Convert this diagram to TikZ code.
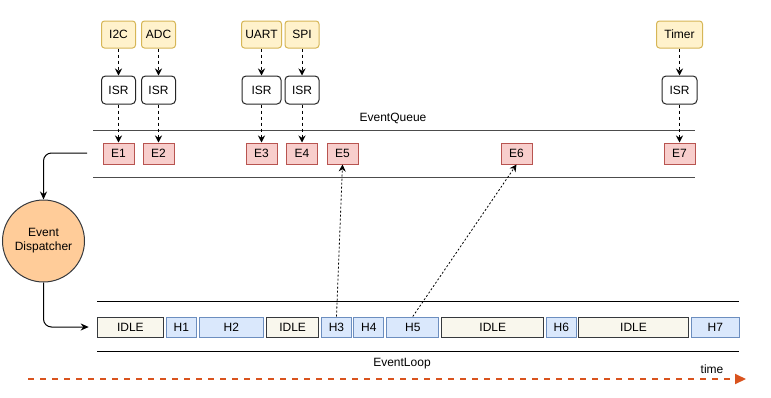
\documentclass[tikz,border=0pt]{standalone}
\usepackage{fontspec}
\setmainfont{Liberation Sans}
\usepackage{tikz}
\usetikzlibrary{arrows.meta,positioning}

\definecolor{srcfill}{HTML}{FFF2CC}
\definecolor{srcline}{HTML}{D6B656}
\definecolor{evfill}{HTML}{F8CECC}
\definecolor{evline}{HTML}{B85450}
\definecolor{hfill}{HTML}{DAE8FC}
\definecolor{hline}{HTML}{6C8EBF}
\definecolor{idlefill}{HTML}{F9F7ED}
\definecolor{idleline}{HTML}{36393D}
\definecolor{dispfill}{HTML}{FFCC99}
\definecolor{timecol}{HTML}{D9531E}

\begin{document}
\begin{tikzpicture}[x=1pt,y=-1pt,line width=1pt,
    font=\fontsize{12}{14}\selectfont,
    src/.style={draw=srcline,fill=srcfill,rounded corners=3pt,minimum height=27pt,inner sep=0pt},
    isr/.style={draw=black!85,fill=white,rounded corners=4pt,minimum height=28pt,minimum width=34pt,inner sep=0pt},
    ev/.style={draw=evline,fill=evfill,minimum height=21pt,minimum width=31pt,inner sep=0pt},
    idle/.style={draw=idleline,fill=idlefill,minimum height=20pt,inner sep=0pt},
    hnd/.style={draw=hline,fill=hfill,minimum height=20pt,inner sep=0pt},
    irq/.style={-{Stealth[length=7pt,width=7pt]},dash pattern=on 3pt off 3pt},
    post/.style={-{Stealth[length=7pt,width=7pt]},line width=0.8pt,dash pattern=on 2pt off 2pt},
    bar/.style={draw=black!70}]
    \useasboundingbox (0,0) rectangle (771,397);

    \node[src,minimum width=34pt] (i2c) at (118.5,34.5) {I2C};
    \node[src,minimum width=34pt] (adc) at (158.5,34.5) {ADC};
    \node[src,minimum width=40pt] (uart) at (261.5,34.5) {UART};
    \node[src,minimum width=34pt] (spi) at (302,34.5) {SPI};
    \node[src,minimum width=46pt] (timer) at (679.5,34.5) {Timer};

    \node[isr] (isr1) at (118.5,90) {ISR};
    \node[isr] (isr2) at (158.5,90) {ISR};
    \node[isr,minimum width=39pt] (isr3) at (261.5,90) {ISR};
    \node[isr] (isr4) at (302,90) {ISR};
    \node[isr,minimum width=35pt] (isr5) at (679.5,90) {ISR};

    \draw[bar] (93,130) -- (695,130);
    \draw[bar] (93,177) -- (695,177);
    \node (qlabel) at (393,118) {EventQueue};

    \node[ev] (e1) at (118.5,153.5) {E1};
    \node[ev] (e2) at (158.5,153.5) {E2};
    \node[ev] (e3) at (261.5,153.5) {E3};
    \node[ev] (e4) at (302,153.5) {E4};
    \node[ev] (e5) at (342.5,153.5) {E5};
    \node[ev] (e6) at (516.5,153.5) {E6};
    \node[ev] (e7) at (679.5,153.5) {E7};

    \foreach \s/\i/\e in {i2c/isr1/e1,adc/isr2/e2,uart/isr3/e3,spi/isr4/e4,timer/isr5/e7}{
        \draw[irq] (\s) -- (\i);
        \draw[irq] (\i) -- (\e);
    }

    \node[circle,draw=idleline,fill=dispfill,minimum size=82pt,inner sep=0pt,align=center] (disp) at (43.5,241) {Event\\Dispatcher};

    \draw (97,301.5) -- (739,301.5);
    \draw (97,351.5) -- (739,351.5);
    \node (llabel) at (402,364) {EventLoop};

    \foreach \l/\r/\t/\k/\n in {96.7/164/IDLE/idle/idle1, 166/196.7/H1/hnd/h1, 198.7/264/H2/hnd/h2,
        266/319.3/IDLE/idle/idle2, 321.3/351.7/H3/hnd/h3, 353.3/384.3/H4/hnd/h4, 386.3/439.3/H5/hnd/h5,
        441.3/544.3/IDLE/idle/idle3, 546/576.7/H6/hnd/h6, 578.3/688.7/IDLE/idle/idle4, 690.7/740/H7/hnd/h7}
        \node[\k,minimum width={\r-\l-1}] (\n) at ({(\l+\r)/2},327) {\t};

    \coordinate (qout) at (87,153);
    \draw[-{Stealth[length=8pt,width=7pt]},rounded corners=8pt] (qout) -| (disp.north);
    \draw[-{Stealth[length=8pt,width=7pt]},rounded corners=8pt,shorten >=8pt] (disp.south) |- (idle1.west);

    \draw[post] (h3.north) -- (e5.south);
    \draw[post] (h5.north) -- (e6.south);

    \coordinate (tstart) at (28,379);
    \coordinate (tend) at (746,379);
    \draw[timecol,line width=2pt,dash pattern=on 6pt off 6pt,-{Triangle[length=11pt,width=10pt]}] (tstart) -- (tend);
    \node (tlabel) at (712,369) {time};
\end{tikzpicture}
\end{document}
